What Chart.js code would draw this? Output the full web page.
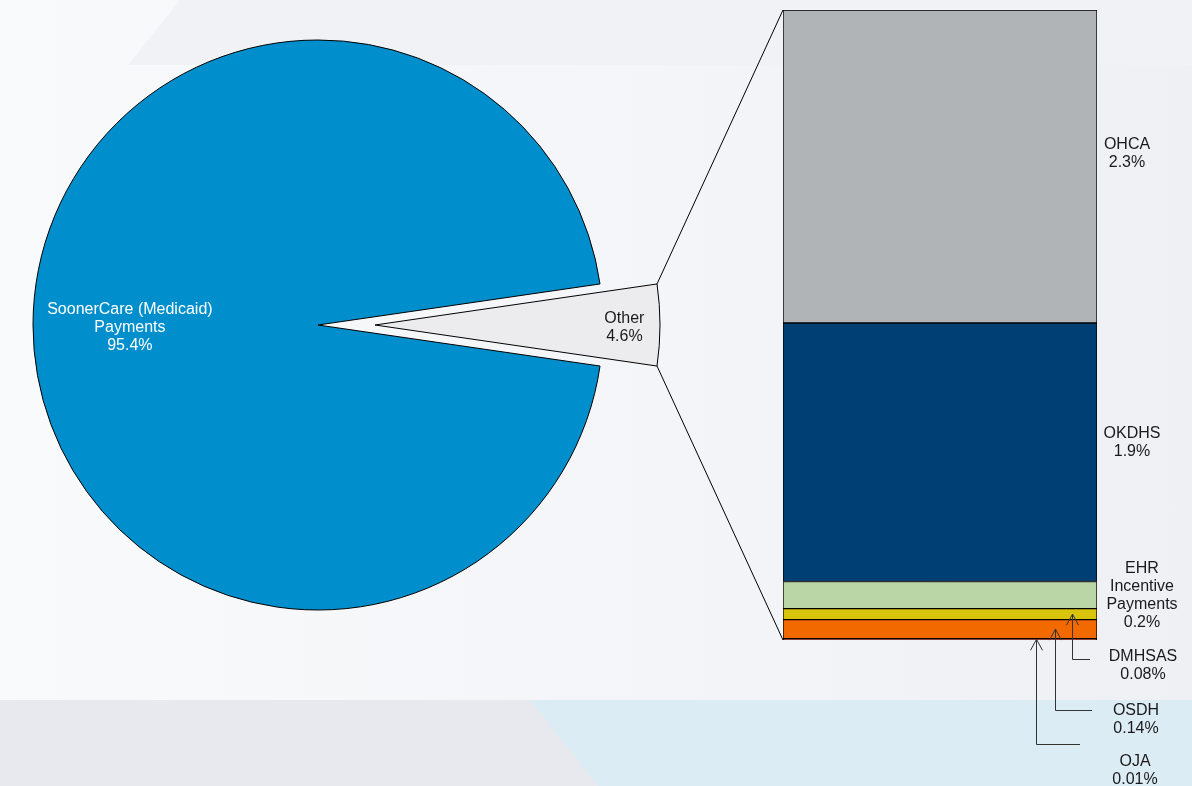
<!DOCTYPE html>
<html>
<head>
<meta charset="utf-8">
<title>SoonerCare payments</title>
<script src="https://cdn.jsdelivr.net/npm/chart.js@4.4.1/dist/chart.umd.min.js"></script>
<style>
  html, body { margin: 0; padding: 0; }
  body {
    width: 1192px; height: 786px; position: relative; overflow: hidden;
    background: linear-gradient(90deg, #f9fafb 0%, #f4f5f8 55%, #eef0f4 100%);
  }
  .band { position: absolute; }
  #topBand {
    left: 0; top: 0; width: 1192px; height: 65px; background: #f1f2f6;
    clip-path: polygon(180px 0, 1192px 0, 1192px 65px, 128px 65px);
  }
  #bottomBand { left: 0; top: 700px; width: 1192px; height: 86px; background: #e8e9ee; }
  #bottomBlue {
    left: 0; top: 700px; width: 1192px; height: 86px; background: #dcecf5;
    clip-path: polygon(530px 0, 1192px 0, 1192px 86px, 598px 86px);
  }
  canvas { position: absolute; left: 0; top: 0; }
</style>
</head>
<body>
<div class="band" id="topBand"></div>
<div class="band" id="bottomBand"></div>
<div class="band" id="bottomBlue"></div>
<canvas id="pieChart" width="1192" height="786"></canvas>
<canvas id="barChart" width="1192" height="786"></canvas>
<script>
// Data ----------------------------------------------------------------------
const pieLabels = [['SoonerCare (Medicaid)', 'Payments'], ['Other']];
const pieValues = [95.4, 4.6];
const pieColors = ['#008fcc', '#ececee'];

const otherLabels = [['OHCA'], ['OKDHS'], ['EHR', 'Incentive', 'Payments'], ['DMHSAS'], ['OSDH'], ['OJA']];
const otherValues = [2.3, 1.9, 0.2, 0.08, 0.14, 0.01];
const otherColors = ['#b1b4b7', '#003f74', '#bad5a6', '#d9c40c', '#f26900', '#7a1c10'];

// Layout --------------------------------------------------------------------
const FONT = '16px "Liberation Sans", Arial, sans-serif';
const LINE_H = 18;
const EXPLODE = 57;                 // how far the "Other" slice is pulled out
const pieLabelRadius = [0.66, 0.875];
const pieLabelDy = 3;
const pieTextColors = ['#ffffff', '#1a1a1a'];

// label placement for the bar segments (dy = offset from segment middle)
const calloutLayout = [
  { x: 1127, dy: -13 },
  { x: 1132, dy: -10 },
  { x: 1142, dy: 0 },
  { x: 1143, y: 666, arrowX: 1072, elbowY: 659, endX: 1090 },
  { x: 1136, y: 720, arrowX: 1055, elbowY: 710, endX: 1092 },
  { x: 1135, y: 771, arrowX: 1036, elbowY: 744, endX: 1080 }
];

Chart.defaults.font.family = '"Liberation Sans", Arial, sans-serif';

function drawLines(ctx, lines, x, y) {
  const top = y - (lines.length - 1) * LINE_H / 2;
  lines.forEach((t, i) => ctx.fillText(t, x, top + i * LINE_H));
}

// Pie -----------------------------------------------------------------------
const explodeOther = {
  id: 'explodeOther',
  afterDatasetUpdate(chart) {
    const arcs = chart.getDatasetMeta(0).data;
    const base = arcs[0];
    const other = arcs[1];
    const mid = (other.startAngle + other.endAngle) / 2;
    other.x = base.x + Math.cos(mid) * EXPLODE;
    other.y = base.y + Math.sin(mid) * EXPLODE;
  }
};

const pieText = {
  id: 'pieText',
  afterDatasetsDraw(chart) {
    const ctx = chart.ctx;
    ctx.save();
    ctx.font = FONT;
    ctx.textAlign = 'center';
    ctx.textBaseline = 'middle';
    chart.getDatasetMeta(0).data.forEach((arc, i) => {
      const mid = (arc.startAngle + arc.endAngle) / 2;
      const r = arc.outerRadius * pieLabelRadius[i];
      ctx.fillStyle = pieTextColors[i];
      drawLines(ctx, [...pieLabels[i], pieValues[i] + '%'],
        arc.x + Math.cos(mid) * r, arc.y + Math.sin(mid) * r + pieLabelDy);
    });
    ctx.restore();
  }
};

const pieTotal = pieValues.reduce((a, b) => a + b, 0);
// centre the last slice ("Other") on the 3 o'clock direction
const pieRotation = 90 + (pieValues[pieValues.length - 1] / pieTotal) * 180;

const pieChart = new Chart(document.getElementById('pieChart'), {
  type: 'pie',
  data: {
    labels: pieLabels.map(l => l.join(' ')),
    datasets: [{
      data: pieValues,
      backgroundColor: pieColors,
      borderColor: '#000000',
      borderWidth: 1,
      clip: false
    }]
  },
  options: {
    responsive: false,
    animation: false,
    events: [],
    rotation: pieRotation,
    radius: 285,
    layout: { padding: { left: 33, top: 40, right: 589, bottom: 176 } },
    plugins: { legend: { display: false }, tooltip: { enabled: false } }
  },
  plugins: [explodeOther, pieText]
});

// Stacked bar of "Other" -----------------------------------------------------
const otherTotal = otherValues.reduce((a, b) => a + b, 0);
const n = otherValues.length;
// stacks build from the bottom, so reverse the order
const barDatasets = otherValues.map((v, i) => ({
  label: otherLabels[i].join(' '),
  data: [v],
  backgroundColor: otherColors[i],
  borderColor: '#000000',
  borderWidth: 1,
  borderSkipped: false,
  barPercentage: 1,
  categoryPercentage: 1
})).reverse();

const segment = (chart, i) => chart.getDatasetMeta(n - 1 - i).data[0];

const barCallouts = {
  id: 'barCallouts',
  beforeDatasetsDraw(chart) {
    // connector lines from the pulled-out slice to the bar
    const ctx = chart.ctx;
    const arc = pieChart.getDatasetMeta(0).data[1];
    const topSeg = segment(chart, 0);
    const botSeg = segment(chart, n - 1);
    const left = topSeg.x - topSeg.width / 2;
    ctx.save();
    ctx.strokeStyle = '#000000';
    ctx.lineWidth = 1;
    ctx.beginPath();
    ctx.moveTo(arc.x + Math.cos(arc.startAngle) * arc.outerRadius, arc.y + Math.sin(arc.startAngle) * arc.outerRadius);
    ctx.lineTo(left, topSeg.y);
    ctx.moveTo(arc.x + Math.cos(arc.endAngle) * arc.outerRadius, arc.y + Math.sin(arc.endAngle) * arc.outerRadius);
    ctx.lineTo(left, botSeg.base);
    ctx.stroke();
    ctx.restore();
  },
  afterDatasetsDraw(chart) {
    const ctx = chart.ctx;
    ctx.save();
    ctx.font = FONT;
    ctx.textAlign = 'center';
    ctx.textBaseline = 'middle';
    ctx.fillStyle = '#1a1a1a';
    ctx.strokeStyle = '#333333';
    ctx.lineWidth = 1;
    otherValues.forEach((v, i) => {
      const seg = segment(chart, i);
      const midY = (seg.y + seg.base) / 2;
      const lay = calloutLayout[i];
      const y = lay.y !== undefined ? lay.y : midY + lay.dy;
      drawLines(ctx, [...otherLabels[i], v + '%'], lay.x, y);
      if (lay.arrowX !== undefined) {
        const ax = lay.arrowX + 0.5;
        ctx.beginPath();
        ctx.moveTo(lay.endX, lay.elbowY + 0.5);
        ctx.lineTo(ax, lay.elbowY + 0.5);
        ctx.lineTo(ax, midY);
        ctx.moveTo(ax - 6, midY + 11);
        ctx.lineTo(ax, midY);
        ctx.lineTo(ax + 6, midY + 11);
        ctx.stroke();
      }
    });
    ctx.restore();
  }
};

new Chart(document.getElementById('barChart'), {
  type: 'bar',
  data: { labels: ['Other'], datasets: barDatasets },
  options: {
    responsive: false,
    animation: false,
    events: [],
    layout: { padding: { left: 783, right: 95, top: 10, bottom: 146 } },
    plugins: { legend: { display: false }, tooltip: { enabled: false } },
    scales: {
      x: { display: false, stacked: true },
      y: { display: false, stacked: true, min: 0, max: otherTotal }
    }
  },
  plugins: [barCallouts]
});
</script>
</body>
</html>
